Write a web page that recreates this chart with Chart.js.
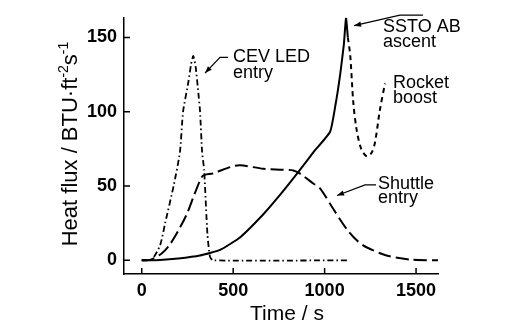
<!DOCTYPE html>
<html>
<head>
<meta charset="utf-8">
<script src="https://cdn.jsdelivr.net/npm/chart.js@4"></script>
<style>
  html, body { margin: 0; padding: 0; background: #fff; }
  #c { display: block; }
</style>
</head>
<body>
<canvas id="c" width="520" height="332"></canvas>
<script>
// tick labels
const xTicks = [0, 500, 1000, 1500];
const yTicks = [0, 50, 100, 150];

// CEV LED entry
const cevTime = [0, 55, 100, 128, 176, 209, 226, 255, 270, 282, 295, 310, 319, 330, 341, 359, 373, 390, 1125];
const cevFlux = [0, 0.5, 10, 25, 51, 73, 100, 120, 132, 137.5, 130, 112, 100, 73, 61, 18, 2.5, 0, 0];

// Shuttle entry
const shuttleTime = [0, 50, 109, 150, 200, 246, 290, 328, 345, 390, 483, 537, 665, 772, 829, 866, 938, 975, 1045, 1121, 1180, 1229, 1338, 1466, 1620];
const shuttleFlux = [0, 0.5, 4.6, 10, 20, 31, 45, 56, 57.5, 58.5, 62.7, 64, 61.6, 61, 60.5, 58.3, 51.7, 48.4, 35, 21, 13, 8.8, 3.3, 0.5, 0];

// SSTO AB ascent
const sstoTime = [0, 100, 200, 318, 428, 537, 665, 756, 847, 938, 1030, 1060, 1085, 1105, 1117, 1127];
const sstoFlux = [0, 0.3, 1.3, 3.3, 7, 15.4, 31, 44, 58, 72.6, 86.5, 105, 125, 145, 163, 150];

// Rocket boost
const rocketTime = [1127, 1140, 1157, 1175, 1200, 1230, 1255, 1275, 1302, 1330];
const rocketFlux = [150, 138, 106, 88, 75, 70, 72, 79, 101, 119];

const FONT = '"Liberation Sans", Arial, sans-serif';

function pts(ts, vs) {
  return ts.map((t, i) => ({ x: t, y: vs[i] }));
}

// labels anchored in data units
const notes = [
  { lines: ["CEV LED", "entry"], t: 499, v: [137, 126], arrow: [[472, 136.6], [428, 136.6], [346, 126]] },
  { lines: ["SSTO AB", "ascent"], t: 1319, v: [157.3, 146.7], arrow: [[1538, 165], [1412, 165], [1161, 157.9]] },
  { lines: ["Rocket", "boost"], t: 1374, v: [119.5, 108.9], arrow: null },
  { lines: ["Shuttle", "entry"], t: 1292, v: [51.5, 41.6], arrow: [[1281, 50.8], [1221, 50.8], [1068, 43.6]] }
];

const decor = {
  id: "decor",
  afterDraw(chart) {
    const { ctx, chartArea: a, scales: { x, y } } = chart;
    ctx.save();
    ctx.strokeStyle = "#000";
    ctx.fillStyle = "#000";

    // inward ticks
    ctx.lineWidth = 1.5;
    ctx.beginPath();
    xTicks.forEach(v => {
      const px = x.getPixelForValue(v);
      ctx.moveTo(px, a.bottom);
      ctx.lineTo(px, a.bottom - 6);
    });
    yTicks.forEach(v => {
      const py = y.getPixelForValue(v);
      ctx.moveTo(a.left, py);
      ctx.lineTo(a.left + 6, py);
    });
    ctx.stroke();

    // annotations
    ctx.font = "18px " + FONT;
    ctx.textBaseline = "middle";
    ctx.textAlign = "left";
    notes.forEach(n => {
      const lx = x.getPixelForValue(n.t);
      n.lines.forEach((s, i) => ctx.fillText(s, lx, y.getPixelForValue(n.v[i])));
      if (!n.arrow) return;
      const p = n.arrow.map(([t, v]) => [x.getPixelForValue(t), y.getPixelForValue(v)]);
      ctx.lineWidth = 1.2;
      ctx.beginPath();
      ctx.moveTo(p[0][0], p[0][1]);
      for (let i = 1; i < p.length; i++) ctx.lineTo(p[i][0], p[i][1]);
      ctx.stroke();
      // arrow head
      const [tx, ty] = p[p.length - 1];
      const [fx, fy] = p[p.length - 2];
      const ang = Math.atan2(ty - fy, tx - fx);
      const L = 7, W = 2.6;
      ctx.beginPath();
      ctx.moveTo(tx, ty);
      ctx.lineTo(tx - L * Math.cos(ang) + W * Math.sin(ang), ty - L * Math.sin(ang) - W * Math.cos(ang));
      ctx.lineTo(tx - L * Math.cos(ang) - W * Math.sin(ang), ty - L * Math.sin(ang) + W * Math.cos(ang));
      ctx.closePath();
      ctx.fill();
    });

    // x title
    ctx.font = "21px " + FONT;
    ctx.textAlign = "center";
    ctx.fillText("Time / s", 287, 314);

    // y title with superscripts
    const parts = [
      ["Heat flux / BTU\u00b7ft", 22, 0],
      ["-2", 14, -7],
      ["s", 22, 0],
      ["-1", 14, -7]
    ];
    let total = 0;
    parts.forEach(p => { ctx.font = p[1] + "px " + FONT; total += ctx.measureText(p[0]).width; });
    ctx.translate(71, 144);
    ctx.rotate(-Math.PI / 2);
    ctx.textAlign = "left";
    ctx.textBaseline = "middle";
    let cx = -total / 2;
    parts.forEach(p => {
      ctx.font = p[1] + "px " + FONT;
      ctx.fillText(p[0], cx, p[2]);
      cx += ctx.measureText(p[0]).width;
    });
    ctx.restore();
  }
};

const lineBase = {
  borderColor: "#000",
  borderWidth: 2,
  pointRadius: 0,
  fill: false,
  tension: 0.3
};

new Chart(document.getElementById("c"), {
  type: "line",
  data: {
    datasets: [
      { ...lineBase, label: "CEV LED entry", data: pts(cevTime, cevFlux), borderDash: [6, 3, 1.5, 3], borderWidth: 1.8, tension: 0.2 },
      { ...lineBase, label: "Shuttle entry", data: pts(shuttleTime, shuttleFlux), borderDash: [13, 5] },
      { ...lineBase, label: "SSTO AB ascent", data: pts(sstoTime, sstoFlux), tension: 0.15 },
      { ...lineBase, label: "Rocket boost", data: pts(rocketTime, rocketFlux), borderDash: [5, 4] }
    ]
  },
  options: {
    responsive: false,
    devicePixelRatio: 1,
    animation: false,
    layout: { padding: { left: 0, top: 13, right: 82, bottom: 0 } },
    plugins: { legend: { display: false }, tooltip: { enabled: false } },
    scales: {
      x: {
        type: "linear",
        min: -97,
        max: 1620,
        afterBuildTicks: s => { s.ticks = xTicks.map(v => ({ value: v })); },
        afterFit: s => { s.height = 58; },
        grid: { display: true, drawOnChartArea: false, drawTicks: false },
        border: { display: true, color: "#000", width: 1.5 },
        ticks: { color: "#000", padding: 6, maxRotation: 0, callback: v => String(v), font: { family: FONT, size: 18, weight: "bold" } }
      },
      y: {
        type: "linear",
        min: -9.2,
        max: 163.2,
        afterBuildTicks: s => { s.ticks = yTicks.map(v => ({ value: v })); },
        afterFit: s => { s.width = 124; },
        grid: { display: true, drawOnChartArea: false, drawTicks: false },
        border: { display: true, color: "#000", width: 1.5 },
        ticks: { color: "#000", padding: 7, callback: v => String(v), font: { family: FONT, size: 18, weight: "bold" } }
      }
    }
  },
  plugins: [decor]
});
</script>
</body>
</html>
